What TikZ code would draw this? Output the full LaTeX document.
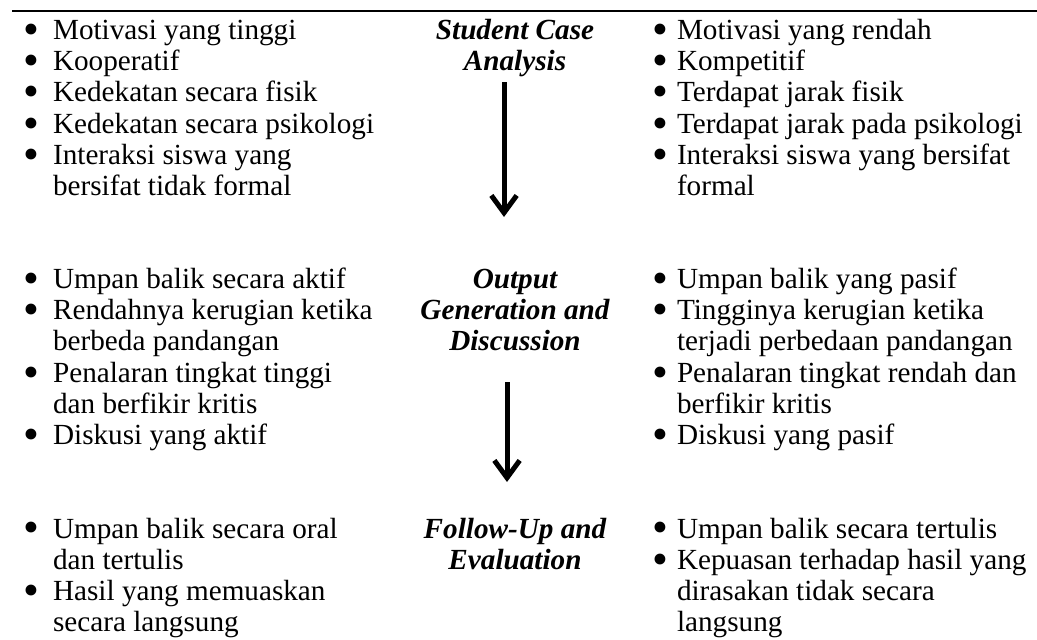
\documentclass[tikz,border=0pt]{standalone}
\usepackage{fontspec}
\setmainfont{Liberation Serif}
\usetikzlibrary{arrows.meta}

% text stacks whose first baseline is the node's base
\newcommand\leftlines[1]{\vtop{\halign{##\hfil\cr#1\crcr}}}
\newcommand\midlines[1]{\vtop{\halign{\hfil##\hfil\cr#1\crcr}}}
\newcommand\bodyfont{\fontsize{21.9pt}{23.475pt}\selectfont}
\newcommand\bigbullet{\raisebox{-3.6pt}{\scalebox{1.55}{\textbullet}}}
\newcommand\lbul{\makebox[32pt]{\bigbullet}}
\newcommand\rbul{\makebox[25.5pt]{\bigbullet}}

\tikzset{
  itemtext/.style={anchor=base west, inner sep=0pt, outer sep=0pt, font=\bodyfont},
  stagetitle/.style={anchor=base, inner sep=0pt, outer sep=0pt, font=\bodyfont\bfseries\itshape},
  flow/.style={line width=3.75pt, -{Straight Barb[length=13pt,width=19pt]}},
  rule/.style={line width=1.5pt},
}

\begin{document}
\begin{tikzpicture}[x=0.75pt,y=-0.75pt]
\useasboundingbox (0,0) rectangle (1037,639);

\draw[rule] (12,11) -- (1037,11);

% stage titles
\node[stagetitle] (T1) at (515,39.3) {\midlines{Student Case\cr Analysis}};
\node[stagetitle] (T2) at (515,288.3) {\midlines{Output\cr Generation and\cr Discussion}};
\node[stagetitle] (T3) at (515,538) {\midlines{Follow-Up and\cr Evaluation}};

% flow arrows between the stages
\coordinate (A1s) at (504,82);
\coordinate (A1e) at (504,217);
\coordinate (A2s) at (507,382);
\coordinate (A2e) at (507,482);
\draw[flow] (A1s) -- (A1e);
\draw[flow] (A2s) -- (A2e);

% left column
\node[itemtext] (L1) at (10.4,39.3) {\lbul\leftlines{Motivasi yang tinggi}};
\node[itemtext] (L2) at (10.4,70.6) {\lbul\leftlines{Kooperatif}};
\node[itemtext] (L3) at (10.4,101.9) {\lbul\leftlines{Kedekatan secara fisik}};
\node[itemtext] (L4) at (10.4,133.2) {\lbul\leftlines{Kedekatan secara psikologi}};
\node[itemtext] (L5) at (10.4,164.5) {\lbul\leftlines{Interaksi siswa yang\cr bersifat tidak formal}};

\node[itemtext] (L6) at (10.4,288.3) {\lbul\leftlines{Umpan balik secara aktif}};
\node[itemtext] (L7) at (10.4,319.6) {\lbul\leftlines{Rendahnya kerugian ketika\cr berbeda pandangan}};
\node[itemtext] (L8) at (10.4,382.2) {\lbul\leftlines{Penalaran tingkat tinggi\cr dan berfikir kritis}};
\node[itemtext] (L9) at (10.4,444.8) {\lbul\leftlines{Diskusi yang aktif}};

\node[itemtext] (L10) at (10.4,538) {\lbul\leftlines{Umpan balik secara oral\cr dan tertulis}};
\node[itemtext] (L11) at (10.4,600.6) {\lbul\leftlines{Hasil yang memuaskan\cr secara langsung}};

% right column
\node[itemtext] (R1) at (643,39.3) {\rbul\leftlines{Motivasi yang rendah}};
\node[itemtext] (R2) at (643,70.6) {\rbul\leftlines{Kompetitif}};
\node[itemtext] (R3) at (643,101.9) {\rbul\leftlines{Terdapat jarak fisik}};
\node[itemtext] (R4) at (643,133.2) {\rbul\leftlines{Terdapat jarak pada psikologi}};
\node[itemtext] (R5) at (643,164.5) {\rbul\leftlines{Interaksi siswa yang bersifat\cr formal}};

\node[itemtext] (R6) at (643,288.3) {\rbul\leftlines{Umpan balik yang pasif}};
\node[itemtext] (R7) at (643,319.6) {\rbul\leftlines{Tingginya kerugian ketika\cr terjadi perbedaan pandangan}};
\node[itemtext] (R8) at (643,382.2) {\rbul\leftlines{Penalaran tingkat rendah dan\cr berfikir kritis}};
\node[itemtext] (R9) at (643,444.8) {\rbul\leftlines{Diskusi yang pasif}};

\node[itemtext] (R10) at (643,538) {\rbul\leftlines{Umpan balik secara tertulis}};
\node[itemtext] (R11) at (643,569.3) {\rbul\leftlines{Kepuasan terhadap hasil yang\cr dirasakan tidak secara\cr langsung}};
\end{tikzpicture}
\end{document}
